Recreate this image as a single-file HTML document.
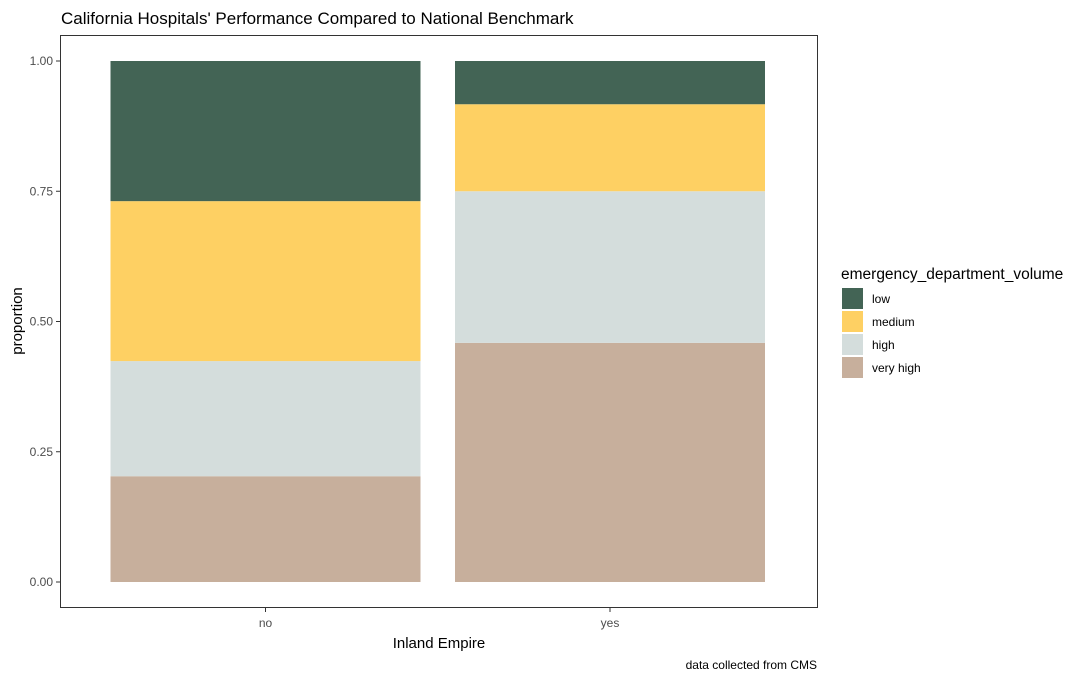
<!DOCTYPE html>
<html><head><meta charset="utf-8"><style>
body{margin:0;background:#fff;font-family:"Liberation Sans",sans-serif;}
svg text{font-family:"Liberation Sans",sans-serif;}
</style></head><body>
<svg id="chart" width="1080" height="680"></svg>
<script>
const categories = ["no", "yes"];
const levels = ["very high", "high", "medium", "low"];
const veryHigh = [0.203, 0.459];
const high = [0.221, 0.291];
const medium = [0.307, 0.167];
const low = [0.269, 0.083];
const yTicks = [0, 0.25, 0.5, 0.75, 1.0];
const yTickLabels = ["0.00", "0.25", "0.50", "0.75", "1.00"];

const colors = {"low":"#436455","medium":"#FED063","high":"#D4DDDC","very high":"#C7AF9C"};
const series = {"very high":veryHigh,"high":high,"medium":medium,"low":low};
const NS = "http://www.w3.org/2000/svg";
const svg = document.getElementById("chart");
function el(tag, attrs, txt){const e=document.createElementNS(NS,tag);for(const k in attrs)e.setAttribute(k,attrs[k]);if(txt!==undefined)e.textContent=txt;svg.appendChild(e);return e;}
const py0=582, py1=61;
const y = v => py0 - v*(py0-py1);
const firstCenter=265.5, step=344.5, barW=310;
const xc = i => firstCenter + step*i;

let t=el("text",{x:61,y:24,"font-size":17,fill:"#000"},"California Hospitals' Performance Compared to National Benchmark");


categories.forEach((c,i)=>{
  let cum=0;
  levels.forEach(l=>{
    const v=series[l][i];
    const r=el("rect",{x:xc(i)-barW/2,y:y(cum+v),width:barW,height:y(cum)-y(cum+v),fill:colors[l]});
    
    
    cum+=v;
  });
  el("line",{x1:xc(i),x2:xc(i),y1:608,y2:612,stroke:"#333"});
  const tl=el("text",{x:xc(i),y:627,"font-size":12,fill:"#4d4d4d","text-anchor":"middle"},c);
  
});
const frame=el("rect",{x:60.5,y:35.5,width:757,height:572,fill:"none",stroke:"#333","stroke-width":1});


yTicks.forEach((v,i)=>{
  el("line",{x1:56,x2:60,y1:y(v),y2:y(v),stroke:"#333"});
  const tl=el("text",{x:53,y:y(v)+4,"font-size":12,fill:"#4d4d4d","text-anchor":"end"},yTickLabels[i]);
  
});
t=el("text",{x:439,y:648,"font-size":15,"text-anchor":"middle",fill:"#000"},"Inland Empire");

t=el("text",{x:22,y:321,"font-size":15,"text-anchor":"middle",fill:"#000",transform:"rotate(-90 22 321)"},"proportion");

t=el("text",{x:817,y:669,"font-size":12,"text-anchor":"end",fill:"#000"},"data collected from CMS");


t=el("text",{x:841,y:279,"font-size":15.5,fill:"#000"},"emergency_department_volume");

["low","medium","high","very high"].forEach((l,i)=>{
  const yy=288+i*23;
  const r=el("rect",{x:842,y:yy,width:21,height:21,fill:colors[l]});
  
  const lt=el("text",{x:872,y:yy+15,"font-size":12,fill:"#000"},l);
  
});
</script>
</body></html>
